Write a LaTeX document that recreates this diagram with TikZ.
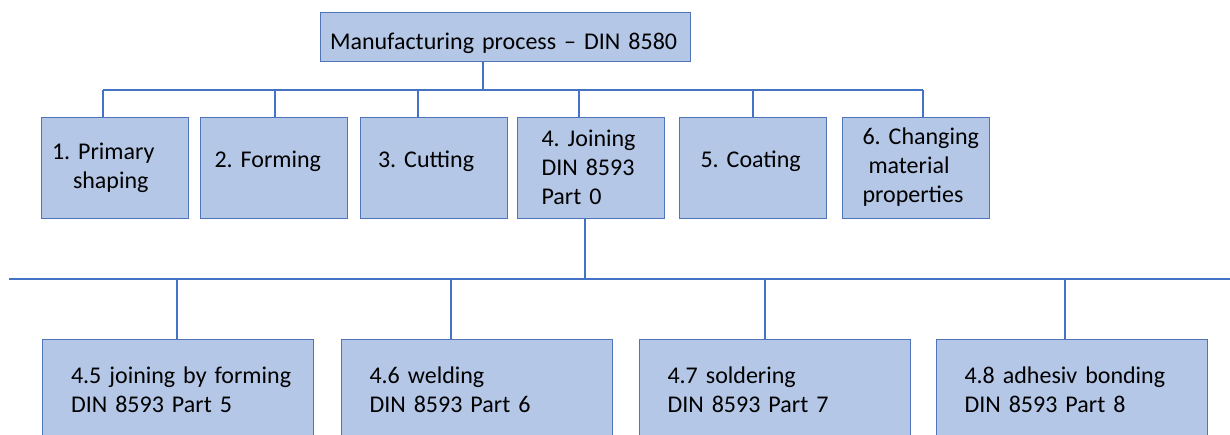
\documentclass[tikz,border=0pt]{standalone}
\usepackage{fontspec}
\setmainfont{Carlito}
\hyphenpenalty=10000
\exhyphenpenalty=10000
\definecolor{boxfill}{HTML}{B4C7E7}
\definecolor{boxline}{HTML}{4F74B8}
\definecolor{wire}{HTML}{4472C4}
\begin{document}
\begin{tikzpicture}[x=1pt,y=-1pt,
    main/.style = {draw=boxline, line width=1pt, fill=boxfill, inner sep=0pt, align=left,
                   minimum width=147pt, minimum height=101pt, font=\fontsize{24}{29}\selectfont},
    oneline/.style = {main, text height=10pt, text depth=10pt},
    sub/.style = {main, minimum width=271pt, text width=214pt},
    wire/.style = {draw=wire, line width=2pt}]
        \clip (0,0) rectangle (1230,434);
        \node[main, minimum width=370pt, minimum height=49pt, text width=350pt, text height=30pt, text depth=5pt] (top) at (505,36.5) {Manufacturing process -- DIN 8580};
        \node[main, text width=125pt] (1) at (114.5,167.5) {1.~Primary\\\hspace*{21pt}shaping};
        \node[oneline, text width=119pt] (2) at (274,167.5) {2.~Forming};
        \node[oneline, text width=111pt] (3) at (433.5,167.5) {3.~Cutting};
        \node[main, text width=99pt] (4) at (591,167.5) {4.~Joining\\DIN~8593\\Part~0};
        \node[oneline, text width=105pt] (5) at (753,167.5) {5.~Coating};
        \node[main, text width=107pt] (6) at (916,167.5) {6.~Changing\\\hspace*{6pt}material\\properties};
        \node[sub] (j5) at (178,389.5) {4.5~joining~by~forming\\DIN~8593~Part~5};
        \node[sub] (j6) at (476.5,389.5) {4.6~welding\\DIN~8593~Part~6};
        \node[sub] (j7) at (774.5,389.5) {4.7~soldering\\DIN~8593~Part~7};
        \node[sub] (j8) at (1071.5,389.5) {4.8~adhesiv~bonding\\DIN~8593~Part~8};
        % upper tree
        \coordinate (hub) at (483,90);
        \coordinate (d1) at (103,90);
        \coordinate (d2) at (275,90);
        \coordinate (d3) at (418,90);
        \coordinate (d4) at (579,90);
        \coordinate (d5) at (753,90);
        \coordinate (d6) at (923,90);
        \draw[wire] (top.south -| hub) -- (hub);
        \draw[wire] (d1) -- (d6);
        \foreach \i in {1,...,6}
            \draw[wire] (d\i) -- (d\i |- \i.north);
        % lower tree
        \coordinate (hub2) at (585,279);
        \coordinate (busL) at (9,279);
        \coordinate (busR) at (1232,279);
        \coordinate (e5) at (177,279);
        \coordinate (e6) at (451,279);
        \coordinate (e7) at (765,279);
        \coordinate (e8) at (1065,279);
        \draw[wire] (4.south -| hub2) -- (hub2);
        \draw[wire] (busL) -- (busR);
        \foreach \i in {5,...,8}
            \draw[wire] (e\i) -- (e\i |- j\i.north);
\end{tikzpicture}
\end{document}
